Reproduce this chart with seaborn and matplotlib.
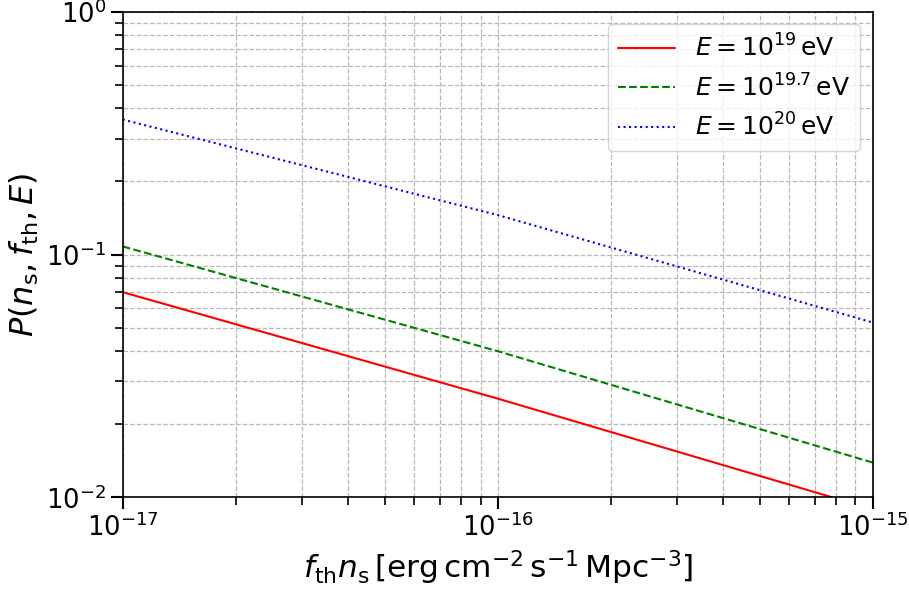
"""Detection probability vs f_th n_s for three energies."""
import matplotlib
import matplotlib.pyplot as plt
import pandas as pd
import seaborn as sns

matplotlib.use("Agg")

# values (log-log straight lines)
x_red = [1e-17, 1e-16, 7.8e-16]
p_red = [0.070, 0.0255, 0.0100]
x_green = [1e-17, 1e-16, 1e-15]
p_green = [0.108, 0.040, 0.0139]
x_blue = [1e-17, 1e-16, 1e-15]
p_blue = [0.360, 0.1455, 0.0525]
labels = [r"$E = 10^{19}\,\rm{eV}$", r"$E = 10^{19.7}\,\rm{eV}$", r"$E = 10^{20}\,\rm{eV}$"]

sns.set_style("white")
plt.rcParams["font.family"] = ["DejaVu Sans"]
plt.rcParams["mathtext.fontset"] = "dejavusans"
plt.rcParams["text.color"] = "black"
plt.rcParams["axes.labelcolor"] = "black"
plt.rcParams["xtick.color"] = "black"
plt.rcParams["ytick.color"] = "black"

fig, ax = plt.subplots(figsize=(9.09, 5.92), dpi=100)

series = [
    (x_red, p_red, "red", "-"),
    (x_green, p_green, "green", "--"),
    (x_blue, p_blue, "blue", ":"),
]
for (xs, ps, col, ls), lab in zip(series, labels):
    df = pd.DataFrame({"x": xs, "p": ps})
    sns.lineplot(data=df, x="x", y="p", color=col, linestyle=ls, linewidth=1.5,
                 label=lab, ax=ax)

ax.set_xscale("log")
ax.set_yscale("log")
ax.set_xlim(1e-17, 1e-15)
ax.set_ylim(1e-2, 1)
ax.grid(True, which="both", linestyle="--", color="#b8b8b8", linewidth=0.9)
ax.tick_params(which="major", direction="out", length=8.5, width=1.5, labelsize=18.5,
               bottom=True, left=True)
ax.tick_params(which="minor", direction="out", length=6, width=1.2,
               bottom=True, left=True)
for s in ax.spines.values():
    s.set_color("black")
    s.set_linewidth(1.2)

ax.set_xlabel(r"$f_{\rm th} n_{\rm s}\,[\rm{erg\,cm^{-2}\,s^{-1}\,Mpc^{-3}}]$", fontsize=22.5)
ax.set_ylabel(r"$P(n_{\rm s}, f_{\rm th}, E)$", fontsize=23)
ax.legend(loc="upper right", fontsize=18, frameon=True, handlelength=2.3)

plt.subplots_adjust(left=0.135, right=0.96, top=0.98, bottom=0.16)
plt.savefig("out.png", dpi=100)
plt.close()
